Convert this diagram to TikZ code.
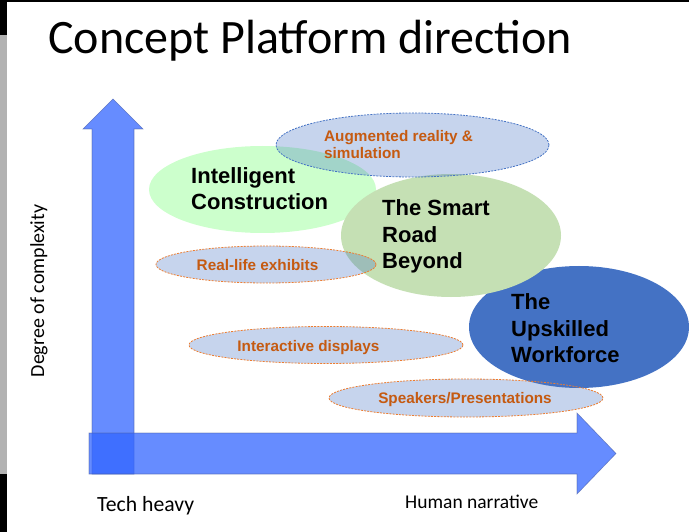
\documentclass[tikz,border=0pt]{standalone}
\usepackage{fontspec}
\setmainfont{Liberation Sans}
\newfontfamily\calib{Carlito}
\usetikzlibrary{shapes.geometric}
\definecolor{arrowblue}{RGB}{51,102,255}
\definecolor{arrowedge}{RGB}{70,90,160}
\definecolor{officeblue}{RGB}{68,114,196}
\definecolor{icgreen}{RGB}{0,255,0}
\definecolor{roadgreen}{RGB}{197,224,180}
\definecolor{txtorange}{RGB}{197,90,17}
\definecolor{dashorange}{RGB}{237,125,49}
\definecolor{stripgray}{RGB}{178,178,178}
\tikzset{
  axisarrow/.style={fill=arrowblue, fill opacity=0.75, draw=arrowedge, draw opacity=0.6, line width=0.6pt},
  blob/.style={ellipse, inner sep=0pt, draw=none},
  pill/.style={ellipse, inner sep=0pt, fill=officeblue, fill opacity=0.3, draw=dashorange, line width=0.8pt, dash pattern=on 2pt off 1.2pt},
  big/.style={font=\fontsize{22}{26}\selectfont\bfseries, anchor=base west, inner sep=0pt, text=black},
  small/.style={font=\fontsize{15.3}{18}\selectfont\bfseries, text=txtorange, inner sep=0pt, anchor=base},
  plainlabel/.style={inner sep=0pt, text=black}
}
\begin{document}
\begin{tikzpicture}[x=1pt,y=-1pt]
\useasboundingbox (0,0) rectangle (689,532);
\fill[white] (0,0) rectangle (689,532);
% frame remnants
\fill[black] (0,0) rectangle (689,2);
\fill[black] (0,0) rectangle (7,35);
\fill[stripgray] (0,35) rectangle (7,474);
\fill[black] (0,474) rectangle (7,532);
% title
\node[plainlabel, font=\calib\fontsize{48}{58}\selectfont, anchor=base west] (title) at (48,54) {Concept Platform direction};
% axes arrows
\path[axisarrow] (92,474) -- (92,129) -- (83,129) -- (113,99) -- (143,129) -- (134,129) -- (134,474) -- cycle;
\path[axisarrow] (89,433) -- (577,433) -- (577,413) -- (616,453.5) -- (577,494) -- (577,474) -- (89,474) -- cycle;
% ellipses
\node[blob, fill=icgreen, fill opacity=0.2, minimum width=227pt, minimum height=87pt] (ic) at (262.5,189.5) {};
\node[blob, fill=officeblue, minimum width=220pt, minimum height=122pt] (up) at (579,327) {};
\node[blob, fill=roadgreen, minimum width=220pt, minimum height=123pt] (road) at (451,235.5) {};
\node[pill, draw=officeblue, minimum width=273pt, minimum height=64pt] (ar) at (412.5,145) {};
\node[pill, minimum width=220pt, minimum height=37pt] (rl) at (266,264.5) {};
\node[pill, minimum width=274pt, minimum height=37pt] (id) at (326,345) {};
\node[pill, minimum width=274pt, minimum height=38pt] (sp) at (466,398) {};
% big labels
\node[big] (ic1) at (191,184) {Intelligent};
\node[big] (ic2) at (191,210) {Construction};
\node[big] (rd1) at (382,216) {The Smart};
\node[big] (rd2) at (382,243) {Road};
\node[big] (rd3) at (382,269) {Beyond};
\node[big] (up1) at (511,309) {The};
\node[big] (up2) at (511,336) {Upskilled};
\node[big] (up3) at (511,362) {Workforce};
% small labels
\node[small, anchor=base west] (ar1) at (324,142) {Augmented reality \&};
\node[small, anchor=base west] (ar2) at (324,159) {simulation};
\node[small] (rl1) at (257.5,271) {Real-life exhibits};
\node[small] (id1) at (308.5,351) {Interactive displays};
\node[small] (sp1) at (465,403) {Speakers/Presentations};
% axis labels
\node[plainlabel, font=\calib\fontsize{20}{24}\selectfont, rotate=90, anchor=base] (ylab) at (44,291) {Degree of complexity};
\node[plainlabel, font=\calib\fontsize{21.7}{26}\selectfont, anchor=base west] (xlab1) at (97,511) {Tech heavy};
\node[plainlabel, font=\calib\fontsize{19.5}{24}\selectfont, anchor=base west] (xlab2) at (405,508) {Human narrative};
\end{tikzpicture}
\end{document}
